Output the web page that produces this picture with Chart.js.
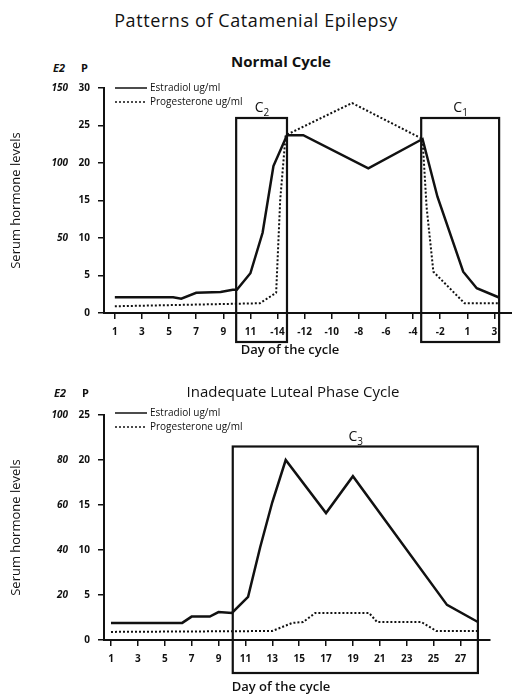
<!DOCTYPE html>
<html>
<head>
<meta charset="utf-8">
<script src="https://cdn.jsdelivr.net/npm/chart.js@4.4.0/dist/chart.umd.min.js"></script>
<style>
  body { margin: 0; width: 512px; height: 694px; background: #fff; position: relative; overflow: hidden;
         font-family: "Open Sans", sans-serif; color: #111; }
  .txt { position: absolute; white-space: nowrap; transform: translate(-50%, -50%); line-height: 1; }
  #title-main { left: 256px; top: 20px; font-size: 18px; font-weight: 500; letter-spacing: 0.6px; }
  #title-top { left: 281px; top: 61px; font-size: 15px; font-weight: bold; }
  #title-bot { left: 293px; top: 391px; font-size: 15px; font-weight: 500; }
  .hdr { position: absolute; font-size: 11px; font-weight: bold; line-height: 1; transform: translateY(-50%); }
  .hdr i { margin-right: 16px; }
  .xtitle { font-size: 13px; font-weight: 600; }
  .wrap { position: absolute; left: 0; width: 512px; }
</style>
</head>
<body>
<div class="txt" id="title-main">Patterns of Catamenial Epilepsy</div>
<div class="txt" id="title-top">Normal Cycle</div>
<div class="hdr" style="left:53px; top:67px"><i>E2</i>P</div>
<div class="wrap" style="top:40px; height:320px"><canvas id="normal-chart" width="512" height="320"></canvas></div>
<div class="txt xtitle" style="left:290px; top:349px">Day of the cycle</div>

<div class="txt" id="title-bot">Inadequate Luteal Phase Cycle</div>
<div class="hdr" style="left:54px; top:392px"><i>E2</i>P</div>
<div class="wrap" style="top:395px; height:299px"><canvas id="luteal-chart" width="512" height="299"></canvas></div>
<div class="txt xtitle" style="left:281px; top:686px">Day of the cycle</div>

<script>
// --- Normal cycle data (x = position along the day axis, 0 = first day) ---
const normalTickLabels = ['1', '3', '5', '7', '9', '11', '-14', '-12', '-10', '-8', '-6', '-4', '-2', '1', '3'];
const normalEstradiolX = [0, 4.3, 4.9, 6, 7.8, 8.7, 9, 10, 10.9, 11.7, 12.7, 13.9, 18.7, 22.7, 23.8, 25.7, 26.7, 28.3];
const normalEstradiol  = [2.1, 2.1, 1.9, 2.7, 2.8, 3.1, 3.1, 5.3, 10.7, 19.6, 23.7, 23.7, 19.3, 23.2, 15.5, 5.5, 3.3, 2.1];
const normalProgX = [0, 10.7, 11.9, 12.2, 12.6, 17.5, 22.7, 23.0, 23.5, 25.8, 28.3];
const normalProg  = [0.9, 1.3, 2.7, 15.1, 23.7, 28.0, 23.2, 14.1, 5.5, 1.3, 1.3];
const normalBoxes = [
  { sub: '2', from: 8.95, to: 12.7, top: 26 },
  { sub: '1', from: 22.6, to: 28.35, top: 26 }
];

// --- Inadequate luteal phase data (x = day of the cycle) ---
const lutealTickLabels = ['1', '3', '5', '7', '9', '11', '13', '15', '17', '19', '21', '23', '25', '27'];
const lutealEstradiolX = [1, 6.3, 7, 8.35, 9, 10, 11.2, 12.1, 13, 14, 17, 19, 26, 28.3];
const lutealEstradiol  = [1.9, 1.9, 2.6, 2.6, 3.1, 3.0, 4.8, 10.3, 15.3, 20, 14.1, 18.2, 3.9, 2.0];
const lutealProgX = [1, 13, 14.5, 15.3, 16.2, 20.2, 20.8, 24.1, 25.2, 28.3];
const lutealProg  = [0.9, 1.0, 1.9, 2.0, 3.0, 3.0, 2.0, 2.0, 1.0, 1.0];
const lutealBoxes = [
  { sub: '3', from: 10.06, to: 28.3, top: 21.5 }
];

const INK = '#111';

function toPoints(xs, ys) {
  return xs.map((x, i) => ({ x, y: ys[i] }));
}

// Draws the C boxes and the small line legend inside the plot
const cyclePlugin = {
  id: 'cycleExtras',
  afterDatasetsDraw(chart, args, opts) {
    const { ctx, chartArea, scales } = chart;
    ctx.save();
    ctx.strokeStyle = INK;
    ctx.fillStyle = INK;
    ctx.lineWidth = 2.2;
    opts.boxes.forEach(b => {
      const left = scales.x.getPixelForValue(b.from);
      const right = scales.x.getPixelForValue(b.to);
      const top = scales.y.getPixelForValue(b.top);
      const bottom = chartArea.bottom + opts.boxDrop;
      ctx.setLineDash([]);
      ctx.strokeRect(left, top, right - left, bottom - top);
      const cx = (left + right) / 2;
      ctx.textBaseline = 'alphabetic';
      ctx.font = '14px "Open Sans"';
      ctx.textAlign = 'right';
      ctx.fillText('C', cx + 2, top - 6);
      ctx.font = '10px "Open Sans"';
      ctx.textAlign = 'left';
      ctx.fillText(b.sub, cx + 2, top - 2);
    });

    // legend
    const lx = chartArea.left + 11;
    chart.data.datasets.forEach((ds, i) => {
      const ly = chartArea.top + opts.legendOffset + i * 14;
      ctx.beginPath();
      ctx.lineWidth = 1.5;
      ctx.setLineDash(ds.borderDash || []);
      ctx.moveTo(lx, ly);
      ctx.lineTo(lx + 32, ly);
      ctx.stroke();
      ctx.setLineDash([]);
      ctx.font = '10px "Open Sans"';
      ctx.textAlign = 'left';
      ctx.textBaseline = 'middle';
      ctx.fillText(ds.label, lx + 35, ly);
    });
    ctx.restore();
  }
};

function makeChart(canvasId, cfg) {
  const tickFont = { family: '"Open Sans"', size: 10, weight: 'bold' };
  return new Chart(document.getElementById(canvasId), {
    type: 'line',
    data: {
      datasets: [{
        label: 'Estradiol ug/ml',
        data: toPoints(cfg.estradiolX, cfg.estradiol),
        borderColor: INK,
        borderWidth: 2.5,
        pointRadius: 0,
        tension: 0
      }, {
        label: 'Progesterone ug/ml',
        data: toPoints(cfg.progX, cfg.prog),
        borderColor: INK,
        borderWidth: 2,
        borderDash: [2, 2],
        pointRadius: 0,
        tension: 0
      }]
    },
    options: {
      responsive: false,
      animation: false,
      layout: { padding: { top: cfg.padTop, right: cfg.padRight, left: 0, bottom: 0 } },
      scales: {
        x: {
          type: 'linear',
          min: cfg.xMin,
          max: cfg.xMax,
          afterBuildTicks: scale => {
            scale.ticks = cfg.tickLabels.map((l, i) => ({ value: cfg.tickStart + i * 2 }));
          },
          ticks: {
            autoSkip: false,
            maxRotation: 0,
            padding: 7,
            color: INK,
            font: tickFont,
            callback: (value, index) => cfg.tickLabels[index]
          },
          grid: { drawOnChartArea: false, tickLength: 6, color: INK, lineWidth: 1.5 },
          border: { color: INK, width: 2 },
          afterFit: scale => { scale.height = cfg.xAxisHeight; }
        },
        y: {
          position: 'left',
          weight: 0,
          min: 0,
          max: cfg.pMax,
          ticks: { stepSize: 5, padding: 8, color: INK, font: tickFont },
          grid: { drawOnChartArea: false, tickLength: 6, color: INK, lineWidth: 1.5 },
          border: { color: INK, width: 2 },
          afterFit: scale => { scale.width = 30; }
        },
        e2: {
          type: 'linear',
          position: 'left',
          weight: 1,
          min: 0,
          max: cfg.e2Max,
          ticks: {
            stepSize: cfg.e2Step,
            padding: 6,
            color: INK,
            font: { family: '"Open Sans"', size: 10, style: 'italic', weight: 'bold' },
            callback: v => (v === 0 ? '' : v)
          },
          grid: { display: false, drawTicks: false },
          border: { display: false },
          title: {
            display: true,
            text: 'Serum hormone levels',
            color: INK,
            font: { family: '"Open Sans"', size: 13, weight: 500 },
            padding: { top: 8, bottom: 0 }
          },
          afterFit: scale => { scale.width = 74; }
        }
      },
      plugins: {
        legend: { display: false },
        tooltip: { enabled: false },
        cycleExtras: { boxes: cfg.boxes, boxDrop: cfg.boxDrop, legendOffset: cfg.legendOffset }
      }
    },
    plugins: [cyclePlugin]
  });
}

makeChart('normal-chart', {
  estradiolX: normalEstradiolX, estradiol: normalEstradiol,
  progX: normalProgX, prog: normalProg,
  tickLabels: normalTickLabels, tickStart: 0,
  xMin: -0.8, xMax: 29.3,
  pMax: 30, e2Max: 150, e2Step: 50,
  boxes: normalBoxes, boxDrop: 29, legendOffset: 0,
  padTop: 48, padRight: 0, xAxisHeight: 47
});

makeChart('luteal-chart', {
  estradiolX: lutealEstradiolX, estradiol: lutealEstradiol,
  progX: lutealProgX, prog: lutealProg,
  tickLabels: lutealTickLabels, tickStart: 1,
  xMin: 0.48, xMax: 29.2,
  pMax: 25, e2Max: 100, e2Step: 20,
  boxes: lutealBoxes, boxDrop: 33, legendOffset: -2,
  padTop: 20, padRight: 22, xAxisHeight: 54
});
</script>
</body>
</html>
